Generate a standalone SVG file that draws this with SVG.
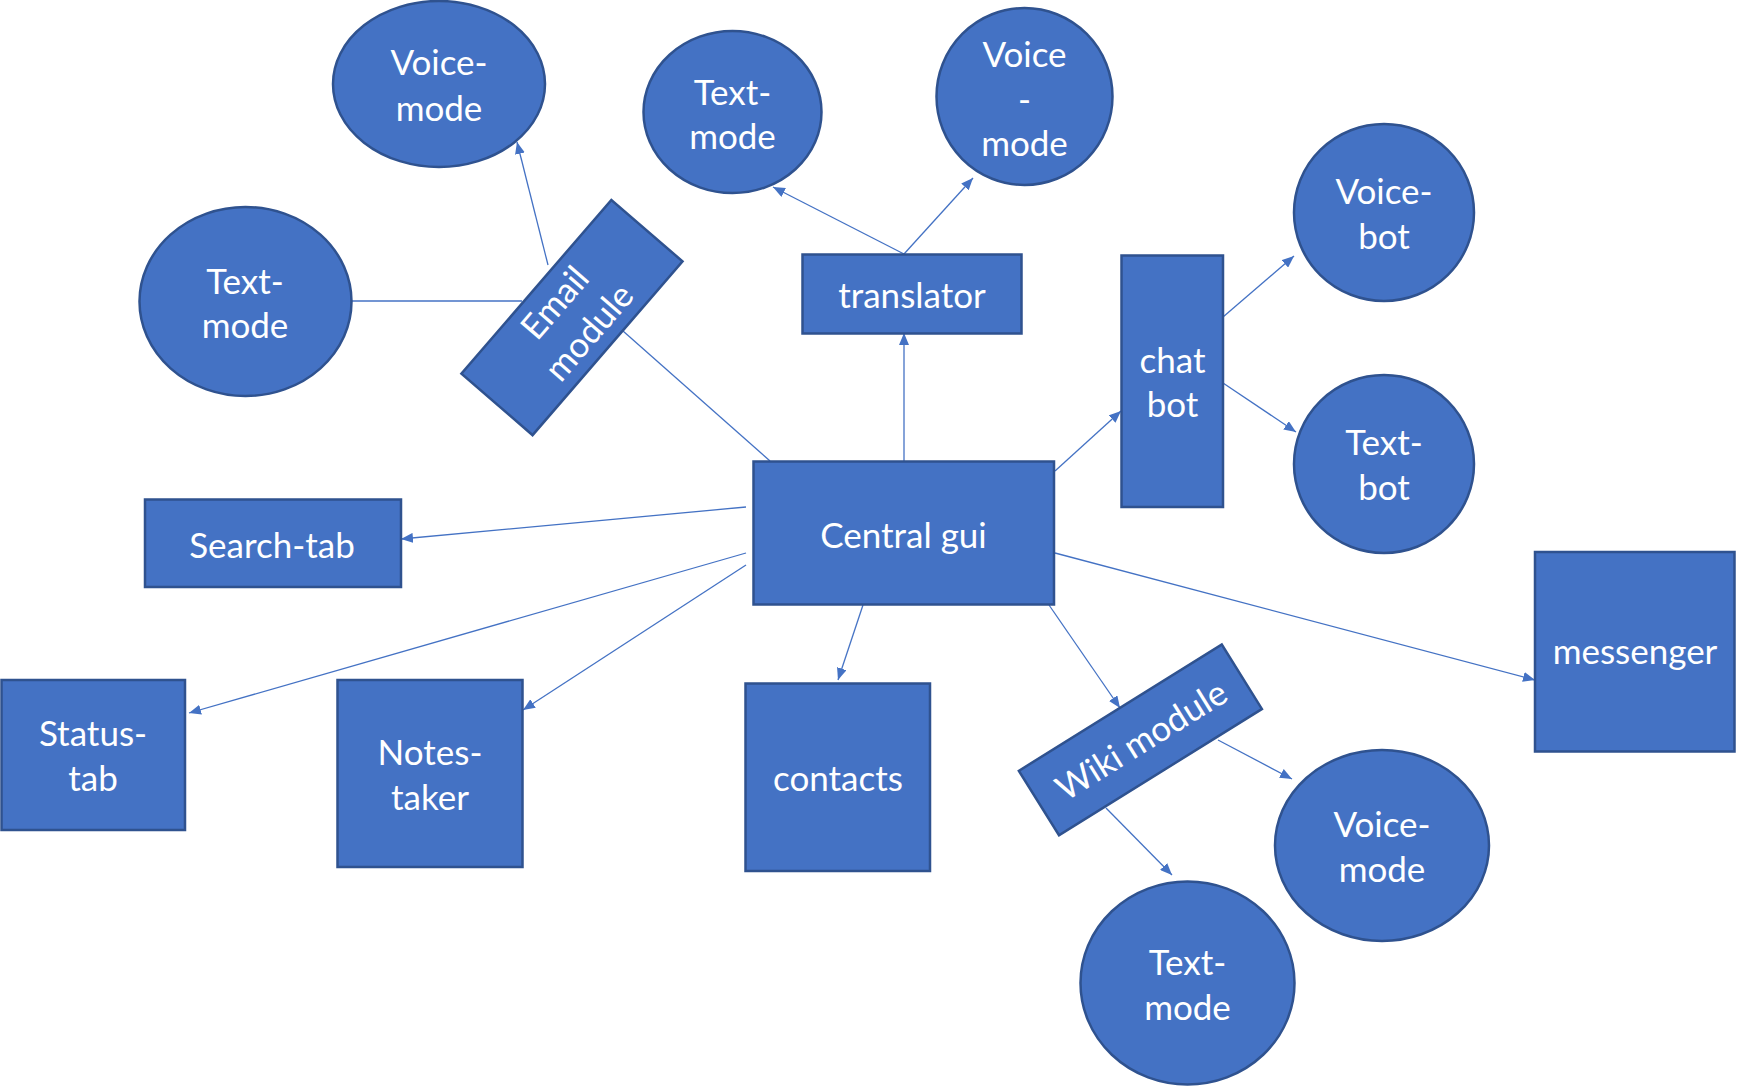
<svg xmlns="http://www.w3.org/2000/svg" width="1741" height="1086" viewBox="0 0 1741 1086">
<style>
.n{fill:#4472C4;stroke:#2F528F;stroke-width:2.5}
.t{fill:#FFFFFF;font-family:Lato,"Liberation Sans",sans-serif;font-size:35px;text-anchor:middle}
.c{stroke:#4472C4;stroke-width:1.3;fill:none}
.a{marker-end:url(#ah)}
</style>
<defs>
<marker id="ah" markerUnits="userSpaceOnUse" markerWidth="13" markerHeight="10" refX="12" refY="5" orient="auto">
<path d="M0,0 L12,5 L0,10 z" fill="#4472C4"/>
</marker>
</defs>
<rect width="1741" height="1086" fill="#FFFFFF"/>
<g id="connectors">
<line class="c a" x1="548" y1="265" x2="517" y2="142"/>
<line class="c" x1="351" y1="301" x2="522" y2="301"/>
<line class="c" x1="623" y1="331" x2="770" y2="461"/>
<line class="c a" x1="904" y1="254" x2="773" y2="187"/>
<line class="c a" x1="904" y1="254" x2="973" y2="178"/>
<line class="c a" x1="904" y1="461" x2="904" y2="333"/>
<line class="c a" x1="1055" y1="471" x2="1121" y2="411"/>
<line class="c a" x1="1223" y1="317" x2="1294" y2="256"/>
<line class="c a" x1="1223" y1="383" x2="1296" y2="432"/>
<line class="c a" x1="746" y1="507" x2="401" y2="539"/>
<line class="c a" x1="746" y1="553" x2="189" y2="713"/>
<line class="c a" x1="746" y1="565" x2="523" y2="710"/>
<line class="c a" x1="863" y1="605" x2="838" y2="680"/>
<line class="c a" x1="1049" y1="605" x2="1120" y2="708"/>
<line class="c a" x1="1055" y1="553" x2="1535" y2="680"/>
<line class="c a" x1="1218" y1="740" x2="1292" y2="779"/>
<line class="c a" x1="1106" y1="808" x2="1172" y2="875"/>
</g>
<g id="email-voice-mode">
<ellipse class="n" cx="439" cy="84" rx="106" ry="83"/>
<text class="t" x="439" y="74.5">Voice-</text>
<text class="t" x="439" y="120.5">mode</text>
</g>
<g id="email-text-mode">
<ellipse class="n" cx="245.5" cy="301.5" rx="106" ry="94.5"/>
<text class="t" x="245" y="293.5">Text-</text>
<text class="t" x="245" y="337.5">mode</text>
</g>
<g id="email-module">
<g transform="rotate(-49.2 572 317.5)">
<rect class="n" x="457.2" y="270.5" width="229.5" height="94"/>
<text class="t" x="572" y="307">Email</text>
<text class="t" x="572" y="352">module</text>
</g>
</g>
<g id="translator-text-mode">
<ellipse class="n" cx="732.5" cy="112" rx="89" ry="81"/>
<text class="t" x="732.5" y="104.5">Text-</text>
<text class="t" x="732.5" y="148.5">mode</text>
</g>
<g id="translator-voice-mode">
<ellipse class="n" cx="1024.5" cy="96.5" rx="88" ry="88.5"/>
<text class="t" x="1024.5" y="66.5">Voice</text>
<text class="t" x="1024.5" y="111.5">-</text>
<text class="t" x="1024.5" y="155.5">mode</text>
</g>
<g id="translator">
<rect class="n" x="802.5" y="254.5" width="219" height="79"/>
<text class="t" x="912" y="307.5">translator</text>
</g>
<g id="central-gui">
<rect class="n" x="753.5" y="461.5" width="300.5" height="143"/>
<text class="t" x="903.5" y="547.5">Central gui</text>
</g>
<g id="chat-bot">
<rect class="n" x="1121.5" y="255.5" width="101.5" height="251.5"/>
<text class="t" x="1172.5" y="372.5">chat</text>
<text class="t" x="1172.5" y="416.5">bot</text>
</g>
<g id="voice-bot">
<ellipse class="n" cx="1384" cy="212.5" rx="90" ry="88.5"/>
<text class="t" x="1384" y="203.5">Voice-</text>
<text class="t" x="1384" y="248.5">bot</text>
</g>
<g id="text-bot">
<ellipse class="n" cx="1384" cy="464" rx="90" ry="89"/>
<text class="t" x="1384" y="454.5">Text-</text>
<text class="t" x="1384" y="499.5">bot</text>
</g>
<g id="search-tab">
<rect class="n" x="145" y="499.5" width="256" height="87.5"/>
<text class="t" x="272" y="557.5">Search-tab</text>
</g>
<g id="status-tab">
<rect class="n" x="1.5" y="680" width="183.5" height="150"/>
<text class="t" x="93" y="745.5">Status-</text>
<text class="t" x="93" y="790.5">tab</text>
</g>
<g id="notes-taker">
<rect class="n" x="337.5" y="680" width="185" height="187"/>
<text class="t" x="430" y="764.5">Notes-</text>
<text class="t" x="430" y="809.5">taker</text>
</g>
<g id="contacts">
<rect class="n" x="745.5" y="683.5" width="184.5" height="187.5"/>
<text class="t" x="838" y="790.5">contacts</text>
</g>
<g id="messenger">
<rect class="n" x="1535" y="552" width="199.5" height="199.5"/>
<text class="t" x="1635" y="663.5">messenger</text>
</g>
<g id="wiki-module">
<g transform="rotate(-31.9 1140.4 739.9)">
<rect class="n" x="1020.9" y="701.9" width="239" height="76"/>
<text class="t" x="1141" y="753">Wiki module</text>
</g>
</g>
<g id="wiki-voice-mode">
<ellipse class="n" cx="1382" cy="845.5" rx="107" ry="95.5"/>
<text class="t" x="1382" y="836.5">Voice-</text>
<text class="t" x="1382" y="881.5">mode</text>
</g>
<g id="wiki-text-mode">
<ellipse class="n" cx="1187.5" cy="983" rx="107" ry="101.5"/>
<text class="t" x="1187.5" y="974.5">Text-</text>
<text class="t" x="1187.5" y="1019.5">mode</text>
</g>
</svg>
